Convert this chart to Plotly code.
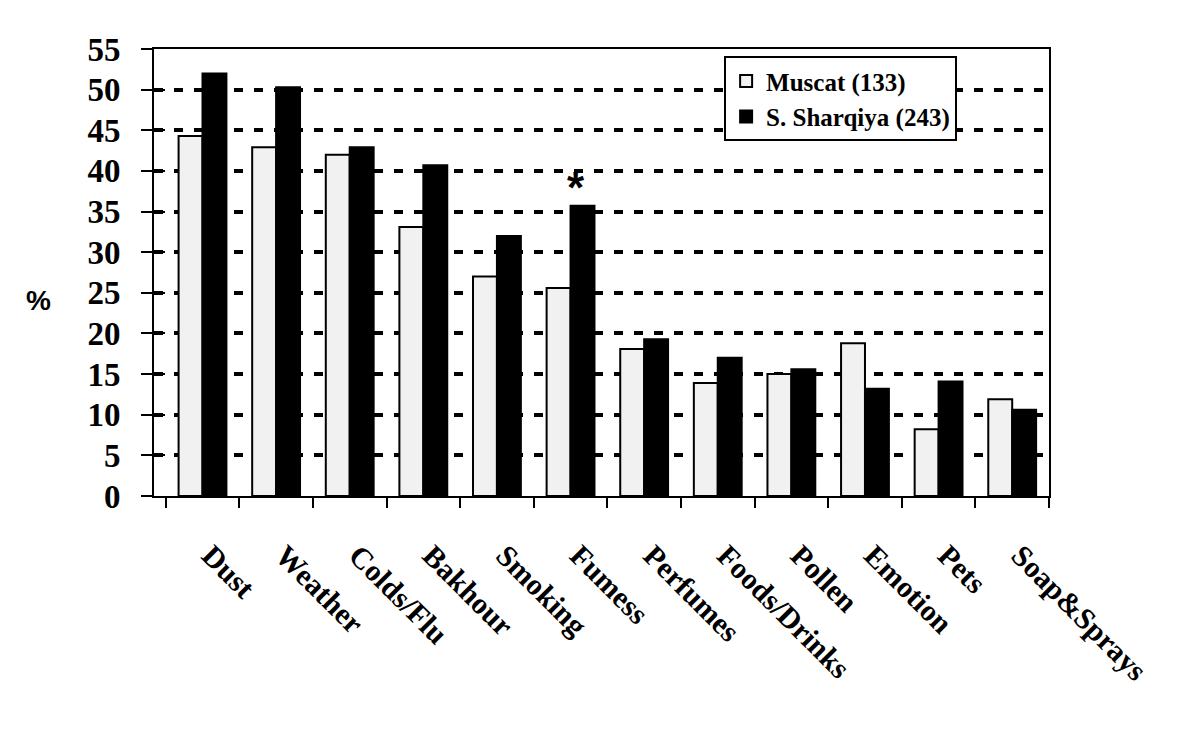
import plotly.graph_objects as go

categories = ["Dust", "Weather", "Colds/Flu", "Bakhour", "Smoking", "Fumess",
              "Perfumes", "Foods/Drinks", "Pollen", "Emotion", "Pets", "Soap&Sprays"]
muscat = [44.3, 42.9, 42.0, 33.1, 27.0, 25.6, 18.1, 13.9, 15.0, 18.8, 8.2, 11.9]
sharqiya = [52.0, 50.3, 42.9, 40.7, 32.0, 35.7, 19.3, 17.0, 15.6, 13.2, 14.1, 10.6]
y_ticks = list(range(0, 60, 5))
star_category = "Fumess"

serif = "Liberation Serif, Times New Roman, serif"

fig = go.Figure()
fig.add_trace(go.Bar(x=categories, y=muscat, name="<b>Muscat (133)</b>",
                     marker=dict(color="#f1f1f1", line=dict(color="black", width=2))))
fig.add_trace(go.Bar(x=categories, y=sharqiya, name="<b>S. Sharqiya (243)</b>",
                     marker=dict(color="black", line=dict(color="black", width=2))))
# invisible trace for inside ticks on y axis
fig.add_trace(go.Scatter(x=[categories[0]], y=[0], yaxis="y2", mode="markers",
                         marker=dict(opacity=0), showlegend=False, hoverinfo="skip"))

star_y = sharqiya[categories.index(star_category)]
fig.add_annotation(x=star_category, y=star_y, xshift=5, yshift=-8, text="<b>*</b>",
                   showarrow=False, yanchor="bottom",
                   font=dict(family="Liberation Sans, Arial", size=44, color="black"))

fig.update_layout(
    width=1200, height=730,
    margin=dict(l=146, r=159, t=41, b=242),
    paper_bgcolor="white", plot_bgcolor="white",
    barmode="group", bargap=0.35, bargroupgap=0,
    showlegend=True,
    legend=dict(x=0.637, y=0.984, xanchor="left", yanchor="top",
                bgcolor="white", bordercolor="black", borderwidth=2,
                font=dict(family=serif, size=25, color="black"),
                itemwidth=30, tracegroupgap=4),
    xaxis=dict(showline=True, linecolor="black", linewidth=2, mirror=True, automargin=False,
               ticks="outside", tickson="boundaries", ticklen=10, tickwidth=2, tickcolor="black",
               tickangle=45, ticklabelstandoff=28, ticklabelshift=8,
               tickfont=dict(family=serif, size=30, color="black", weight="bold"),
               showgrid=False),
    yaxis=dict(range=[0, 55], tickvals=y_ticks, showline=True, linecolor="black", linewidth=2,
               mirror=True, automargin=False,
               ticks="outside", ticklen=11, tickwidth=2, tickcolor="black",
               ticklabelstandoff=14,
               tickfont=dict(family=serif, size=33, color="black", weight="bold"),
               showgrid=True, gridcolor="black", gridwidth=4, griddash="9px,11px",
               zeroline=False),
    yaxis2=dict(range=[0, 55], tickvals=y_ticks, overlaying="y", side="left", automargin=False,
                ticks="inside", ticklen=11, tickwidth=2, tickcolor="black",
                showticklabels=False, showgrid=False, showline=False, zeroline=False),
)

fig.add_annotation(text="<b>%</b>", xref="paper", yref="paper", x=-0.1285, y=0.438,
                   xanchor="center", yanchor="middle",
                   showarrow=False, font=dict(family="Liberation Sans, Arial", size=28, color="black"))

fig.write_html("out.html")
